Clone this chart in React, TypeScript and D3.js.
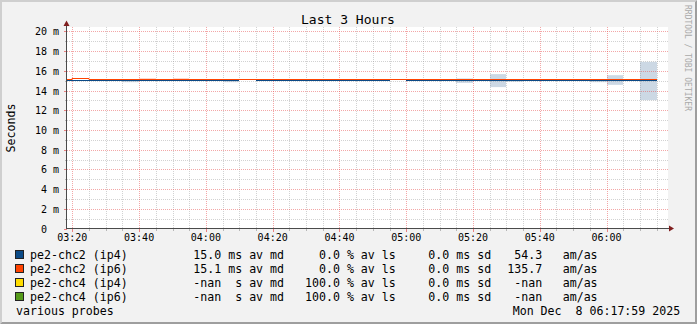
import React from 'react';
import * as d3 from 'd3';

// ---------- data ----------
const binStarts = [
  "03:15", "03:20", "03:25", "03:30", "03:35", "03:40", "03:45", "03:50", "03:55",
  "04:00", "04:05", "04:10", "04:15", "04:20", "04:25", "04:30", "04:35", "04:40", "04:45", "04:50", "04:55",
  "05:00", "05:05", "05:10", "05:15", "05:20", "05:25", "05:30", "05:35", "05:40", "05:45", "05:50", "05:55",
  "06:00", "06:05", "06:10",
];
const dataEnd = "06:15";

// median RTT in ms (null = no data)
const ip4Median: (number | null)[] = [
  15.0, 15.0, 15.0, 15.0, 15.0, 15.0, 15.0, 15.0, 15.0,
  15.0, 15.0, null, 15.0, 15.0, 15.0, 15.0, 15.0, 15.0, 15.0, 15.0, null,
  15.0, 15.0, 15.0, 15.0, 15.0, 15.0, 15.0, 15.0, 15.0, 15.0, 15.0, 15.0,
  15.0, 15.0, 15.0,
];
const ip6Median: (number | null)[] = [
  15.1, 15.2, 15.1, 15.1, 15.1, 15.1, 15.1, 15.1, 15.1,
  15.1, 15.1, 15.1, 15.1, 15.1, 15.1, 15.1, 15.1, 15.1, 15.1, 15.1, 15.1,
  15.1, 15.1, 15.1, 15.1, 15.1, 15.1, 15.1, 15.1, 15.1, 15.1, 15.1, 15.1,
  15.1, 15.1, 15.1,
];
// smoke (min / max ms) per bin
const ip4SmokeMin: (number | null)[] = [
  null, null, null, null, 14.85, null, null, null, null,
  null, 14.85, null, null, null, null, null, null, null, null, null, null,
  null, null, null, 14.78, null, 14.35, 14.9, null, null, null, null, 14.85,
  14.58, null, 13.03,
];
const ip4SmokeMax: (number | null)[] = [
  null, null, null, null, 15.0, null, null, null, null,
  null, 15.0, null, null, null, null, null, null, null, null, null, null,
  null, null, null, 15.23, null, 15.67, 15.12, null, null, null, null, 15.02,
  15.56, null, 16.91,
];
const ip6SmokeMin: (number | null)[] = [
  null, null, null, null, null, 15.1, null, 15.1, null,
  null, null, null, null, null, null, null, null, null, null, null, null,
  null, null, null, null, null, null, null, null, null, null, null, null,
  null, null, null,
];
const ip6SmokeMax: (number | null)[] = [
  null, null, null, null, null, 15.27, null, 15.27, null,
  null, null, null, null, null, null, null, null, null, null, null, null,
  null, null, null, null, null, null, null, null, null, null, null, null,
  null, null, null,
];

const yTicks = [0, 2, 4, 6, 8, 10, 12, 14, 16, 18, 20];
const xTickLabels = ["03:20", "03:40", "04:00", "04:20", "04:40", "05:00", "05:20", "05:40", "06:00"];

const legendNames = ["pe2-chc2 (ip4)", "pe2-chc2 (ip6)", "pe2-chc4 (ip4)", "pe2-chc4 (ip6)"];
const legendMedian = ["15.0 ms", "15.1 ms", "-nan  s", "-nan  s"];
const legendLoss = ["0.0", "0.0", "100.0", "100.0"];
const legendSd = ["0.0 ms", "0.0 ms", "0.0 ms", "0.0 ms"];
const legendAmAs = ["54.3", "135.7", "-nan", "-nan"];
const legendColors = ["#0b4a86", "#ff4300", "#ffdd00", "#559a1a"];

// ---------- layout ----------
const W = 697, H = 324;
const X0 = 67, X1 = 668, YB = 228.5, YT = 27;
const MONO = "'DejaVu Sans Mono', monospace";
const nb = (s: string) => s.replace(/ /g, "\u00A0");

const day = (hm: string, s = 0) => {
  const [h, m] = hm.split(":").map(Number);
  return new Date(2025, 11, 8, h, m, s);
};
const tStart = day("03:18", 24);
const tEnd = day("06:18", 24);

export default function App() {
  const x = d3.scaleTime().domain([tStart, tEnd]).range([X0, X1]);
  const y = d3.scaleLinear().domain([0, 20.4]).range([YB, YB - 201]);

  const binX0 = binStarts.map((s) => Math.max(X0, Math.round(x(day(s)))));
  const binX1 = binStarts.map((s, i) =>
    Math.round(x(i + 1 < binStarts.length ? day(binStarts[i + 1]) : day(dataEnd)))
  );

  const minorTimes = d3.timeMinute.every(5)!.range(tStart, tEnd);
  const majorSet = new Set(xTickLabels);
  const fmt = d3.timeFormat("%H:%M");

  const linePath = (vals: (number | null)[]) => {
    const pts: [number, number | null][] = [];
    vals.forEach((v, i) => {
      pts.push([binX0[i], v]);
      pts.push([binX1[i], v]);
    });
    return d3
      .line<[number, number | null]>()
      .defined((d) => d[1] !== null)
      .x((d) => d[0])
      .y((d) => Math.floor(y(d[1] as number)) + 0.5)(pts) || "";
  };

  const smoke = (mins: (number | null)[], maxs: (number | null)[], color: string) =>
    mins.map((mn, i) => {
      const mx = maxs[i];
      if (mn === null || mx === null) return null;
      return (
        <rect key={i} x={binX0[i]} width={binX1[i] - binX0[i]} y={y(mx)} height={y(mn) - y(mx)} fill={color} />
      );
    });

  const rowY = (i: number) => 258.5 + 14 * i;

  return (
    <svg width={W} height={H} style={{ position: "absolute", left: 0, top: 0, display: "block" }}>
      {/* background & frame */}
      <rect x={0} y={0} width={W} height={H} fill="#f2f2f2" />
      <polygon points={`0,0 ${W},0 ${W - 2},2 2,2 2,${H - 2} 0,${H}`} fill="#cfcfcf" />
      <polygon points={`${W},0 ${W},${H} 0,${H} 2,${H - 2} ${W - 2},${H - 2} ${W - 2},2`} fill="#9e9e9e" />

      {/* canvas */}
      <rect x={X0} y={YT} width={X1 - X0} height={YB - YT} fill="#ffffff" />

      {/* smoke */}
      {smoke(ip4SmokeMin, ip4SmokeMax, "#ccd8e4")}
      {smoke(ip6SmokeMin, ip6SmokeMax, "#fcd6cc")}

      {/* grid */}
      <g shapeRendering="crispEdges">
        {yTicks.flatMap((v, i) => {
          const minor = v + 1 <= 20 ? [v + 1] : [];
          return minor.map((m) => {
            const yy = Math.round(y(m)) + 0.5;
            return (
              <g key={"ym" + i}>
                <line x1={X0} x2={X1} y1={yy} y2={yy} stroke="rgba(143,143,143,0.4)" strokeDasharray="1,1" />
                <line x1={X0 - 2} x2={X0} y1={yy} y2={yy} stroke="rgba(143,143,143,0.6)" />
              </g>
            );
          });
        })}
        {minorTimes
          .filter((t) => !majorSet.has(fmt(t)))
          .map((t, i) => {
            const xx = Math.round(x(t)) + 0.5;
            return (
              <g key={"xm" + i}>
                <line x1={xx} x2={xx} y1={YT} y2={YB} stroke="rgba(143,143,143,0.4)" strokeDasharray="1,1" />
                <line x1={xx} x2={xx} y1={YB} y2={YB + 2} stroke="rgba(143,143,143,0.6)" />
              </g>
            );
          })}
        {yTicks.map((v, i) => {
          const yy = Math.round(y(v)) + 0.5;
          return (
            <g key={"yM" + i}>
              {v > 0 && (
                <line x1={X0} x2={X1} y1={yy} y2={yy} stroke="rgba(232,80,80,0.5)" strokeDasharray="1,1" />
              )}
              <line x1={X0 - 3} x2={X0} y1={yy} y2={yy} stroke="rgba(232,80,80,0.7)" />
            </g>
          );
        })}
        {xTickLabels.map((s, i) => {
          const xx = Math.round(x(day(s))) + 0.5;
          return (
            <g key={"xM" + i}>
              <line x1={xx} x2={xx} y1={YT} y2={YB} stroke="rgba(232,80,80,0.5)" strokeDasharray="1,1" />
              <line x1={xx} x2={xx} y1={YB} y2={YB + 3} stroke="rgba(232,80,80,0.7)" />
            </g>
          );
        })}
      </g>

      {/* lines */}
      <path d={linePath(ip4Median)} fill="none" stroke="#0b4a86" strokeWidth={1} />
      <path d={linePath(ip6Median)} fill="none" stroke="#ff4300" strokeWidth={1} />

      {/* axes */}
      <g shapeRendering="crispEdges">
        <line x1={X0 - 0.5} x2={X0 - 0.5} y1={YB} y2={25} stroke="#4a4a4a" />
        <line x1={X0 - 0.5} x2={X1 + 1} y1={YB} y2={YB} stroke="#4a4a4a" />
      </g>
      <polygon points={`${X0 - 3.5},26 ${X0 + 2.5},26 ${X0 - 0.5},20.5`} fill="#801f1f" />
      <polygon points={`${X1 + 1},${YB - 3} ${X1 + 1},${YB + 3} ${X1 + 6},${YB}`} fill="#801f1f" />

      {/* y labels */}
      <g fontFamily={MONO} fontSize={10} fill="#000">
        {yTicks.map((v, i) => (
          <text key={i} x={v === 0 ? 47 : 59} y={Math.round(y(v)) + 4} textAnchor="end">
            {v === 0 ? "0" : nb(`${v} m`)}
          </text>
        ))}
        {xTickLabels.map((s, i) => (
          <text key={i} x={x(day(s))} y={241} textAnchor="middle">
            {s}
          </text>
        ))}
      </g>

      {/* title & axis label */}
      <text x={348} y={23.5} textAnchor="middle" fontFamily={MONO} fontSize={13} fill="#000">
        {nb("Last 3 Hours")}
      </text>
      <text
        transform="translate(14.5,128) rotate(-90)"
        textAnchor="middle"
        fontFamily={MONO}
        fontSize={11.6}
        fill="#000"
      >
        Seconds
      </text>
      <text
        transform="translate(685,5) rotate(90)"
        fontFamily={MONO}
        fontSize={8}
        fill="#a9a9a9"
      >
        {nb("RRDTOOL / TOBI OETIKER")}
      </text>

      {/* legend */}
      <g fontFamily={MONO} fontSize={11.6} fill="#000">
        {legendNames.map((n, i) => (
          <g key={i}>
            <rect x={15.5} y={250.5 + 14 * i} width={8} height={8} fill={legendColors[i]} stroke="#222" />
            <text x={30}  y={rowY(i)}>{nb(n)}</text>
            <text x={193.3} y={rowY(i)}>{nb(`${legendMedian[i]} av md`)}</text>
            <text x={305} y={rowY(i)}>{nb(`${legendLoss[i].padStart(5, " ")} % av ls`)}</text>
            <text x={428.3} y={rowY(i)}>{nb(`${legendSd[i]} sd`)}</text>
            <text x={507.3} y={rowY(i)}>{nb(legendAmAs[i].padStart(5, " "))}</text>
            <text x={562.7} y={rowY(i)}>am/as</text>
          </g>
        ))}
        <text x={16} y={rowY(4)}>{nb("various probes")}</text>
        <text x={512.7} y={rowY(4)}>{nb("Mon Dec  8 06:17:59 2025")}</text>
      </g>
    </svg>
  );
}
